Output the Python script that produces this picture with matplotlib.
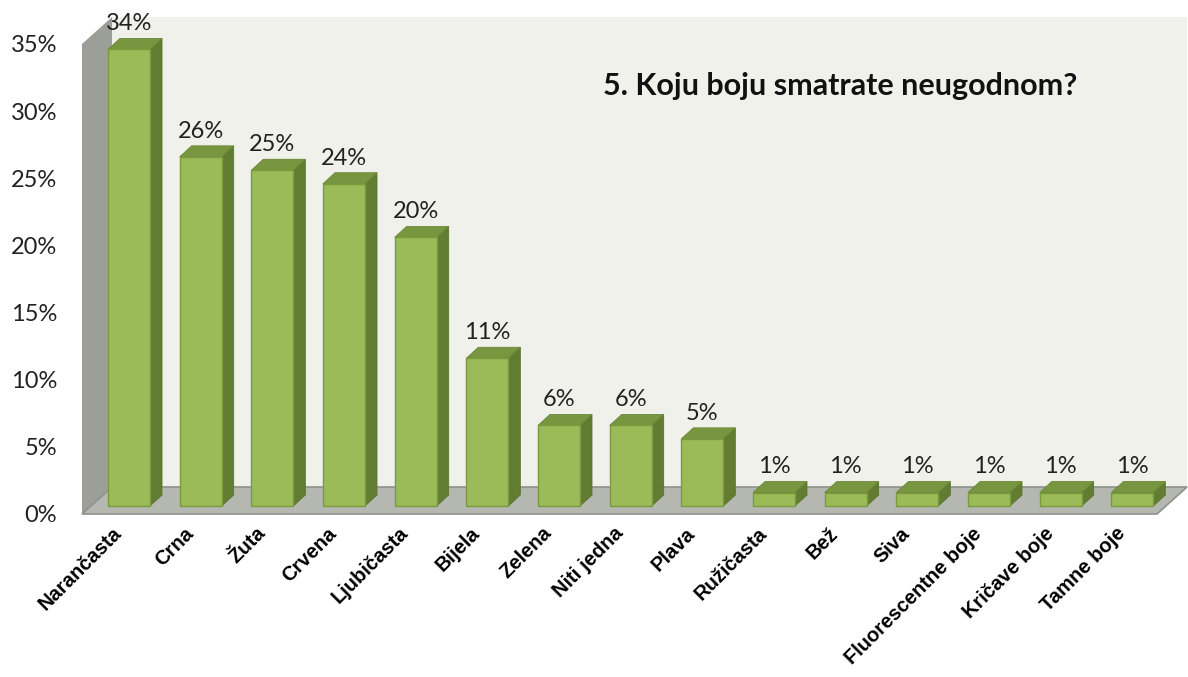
import matplotlib.pyplot as plt
from matplotlib.patches import Polygon

categories = ['Narančasta', 'Crna', 'Žuta', 'Crvena', 'Ljubičasta', 'Bijela', 'Zelena',
              'Niti jedna', 'Plava', 'Ružičasta', 'Bež', 'Siva', 'Fluorescentne boje',
              'Kričave boje', 'Tamne boje']
values = [34, 26, 25, 24, 20, 11, 6, 6, 5, 1, 1, 1, 1, 1, 1]
yticks = [0, 5, 10, 15, 20, 25, 30, 35]
title = '5. Koju boju smatrate neugodnom?'

W, H = 1188, 677
fig = plt.figure(figsize=(W / 100, H / 100), dpi=100)
# front plane of the 3d box in pixels
left, right, bottom, top = 82, 1157, 514, 44
ax = fig.add_axes([left / W, 1 - bottom / H, (right - left) / W, (bottom - top) / H])
n = len(categories)
ymax = 35
ax.set_xlim(0, n)
ax.set_ylim(0, ymax)

px_x = (right - left) / n        # pixels per category
px_y = (bottom - top) / ymax     # pixels per percent

# depth of the box and bars, pixel offsets -> data units
Dx, Dy = 30 / px_x, 27 / px_y
bx, by = 26 / px_x, 8 / px_y
sx, sy = 12 / px_x, 11 / px_y
bw = 42 / px_x

def poly(pts, fc, ec='none', lw=0, z=1):
    ax.add_patch(Polygon(pts, closed=True, facecolor=fc, edgecolor=ec, lw=lw,
                         zorder=z, clip_on=False))

# walls and floor
poly([(Dx, Dy), (n + Dx, Dy), (n + Dx, ymax + Dy), (Dx, ymax + Dy)], '#eff1ea', z=0)
poly([(0, 0), (Dx, Dy), (Dx, ymax + Dy), (0, ymax)], '#9c9e98', z=0.5)
poly([(0, 0), (n, 0), (n + Dx, Dy), (Dx, Dy)], '#b5b7b1', ec='#8f918c', lw=1.2, z=0.6)

# bars
for i, v in enumerate(values):
    x0 = i + bx
    b = by
    poly([(x0 + bw, b), (x0 + bw + sx, b + sy), (x0 + bw + sx, b + v + sy), (x0 + bw, b + v)],
         '#627d32', ec='#5a742c', lw=0.6, z=2)
    poly([(x0, b + v), (x0 + bw, b + v), (x0 + bw + sx, b + v + sy), (x0 + sx, b + v + sy)],
         '#78963f', ec='#6a8736', lw=0.6, z=2)
    ax.add_patch(plt.Rectangle((x0, b), bw, v, facecolor='#9bbb59', edgecolor='#7a9a3e',
                               lw=1, zorder=3, clip_on=False))
    ax.annotate(f'{v}%', (x0 + bw / 2, b + v + sy), xytext=(0, 3),
                textcoords='offset points', ha='center', va='bottom',
                fontsize=17, family='Lato', color='#222222', annotation_clip=False)

for s in ax.spines.values():
    s.set_visible(False)
ax.set_yticks(yticks)
ax.set_yticklabels([f'{t}%' for t in yticks], fontsize=17, family='Lato', color='#222222')
ax.tick_params(axis='y', length=0, pad=18)
ax.set_xticks([i + 0.42 for i in range(n)])
ax.set_xticklabels(categories, rotation=45, ha='right', va='top', rotation_mode='anchor',
                   fontsize=14.5, fontweight='bold', family='Liberation Sans')
ax.tick_params(axis='x', length=0, pad=7)
ax.patch.set_alpha(0)

fig.text(603 / W, 1 - 86 / H, title, fontsize=22, fontweight='bold', family='Lato',
         va='center', ha='left', color='#111111')

fig.savefig('out.png', dpi=100)
